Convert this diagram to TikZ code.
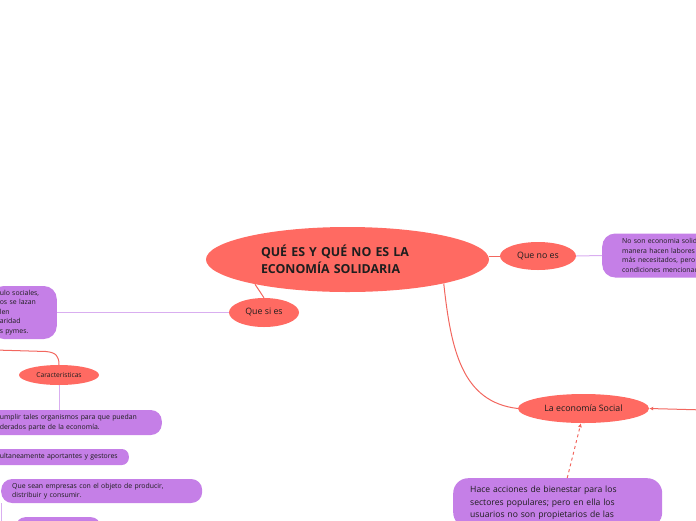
\documentclass[tikz,border=0pt]{standalone}
\usepackage{fontspec}
\setmainfont{Open Sans}
\usetikzlibrary{arrows.meta,positioning,calc,shapes.geometric}
\definecolor{topicred}{HTML}{FF6A62}
\definecolor{notelilac}{HTML}{C57FE7}
\definecolor{linkred}{HTML}{F2675F}
\definecolor{linklilac}{HTML}{D9AEF0}
\definecolor{inkdark}{HTML}{1E1E1E}
\tikzset{
  >={Latex[length=4pt,width=4pt]},
  topic/.style={ellipse,fill=topicred,text=inkdark,inner sep=0pt,align=center,font=\fontsize{8.8}{10}\selectfont},
  note/.style={rounded corners=13pt,fill=notelilac,text=inkdark,inner ysep=0pt,align=left,font=\fontsize{6.9}{9.5}\selectfont},
  redlink/.style={draw=linkred,line width=1pt},
  lilaclink/.style={draw=linklilac,line width=1pt},
}

\begin{document}
\begin{tikzpicture}[x=1pt,y=-1pt]
\useasboundingbox (0,0) rectangle (696,520);
\clip (0,0) rectangle (696,520);

% central topic
\node[topic,minimum width=283pt,minimum height=65pt,text width=173pt,align=left,
  font=\fontsize{12.4}{17.5}\selectfont\bfseries] (title) at (347.5,259.5)
  {QUÉ ES Y QUÉ NO ES LA\\ECONOMÍA SOLIDARIA};

% main branches
\node[topic,minimum width=76pt,minimum height=28pt] (queno) at (538,256) {Que no es};
\node[topic,minimum width=70pt,minimum height=29pt] (quesi) at (264,312.5) {Que si es};
\node[topic,minimum width=131pt,minimum height=29pt] (laeco) at (583.5,408.5) {La economía Social};
\node[topic,minimum width=80pt,minimum height=20pt,font=\fontsize{6.7}{8}\selectfont] (caract) at (59,375) {Caracteristicas};

% notes
\node[note,anchor=west,minimum height=44pt,inner xsep=20pt,text width=190pt] (nobox) at (602,255.5)
  {No son economia solidaria aunque de alguna\\manera hacen labores sociales con los\\más necesitados, pero no cumplen las\\condiciones mencionadas.};
\node[note,anchor=east,minimum height=53pt,inner xsep=9pt,text width=48pt] (defbox) at (57,312.5)
  {ulo sociales,\\os se lazan\\len\\aridad\\s pymes.};
\node[note,anchor=east,rounded corners=11pt,minimum height=25pt,inner xsep=11pt,text width=151pt] (charbox) at (162,422.5)
  {umplir tales organismos para que puedan\\derados parte de la economía.};
\node[note,anchor=east,rounded corners=7pt,minimum height=16pt,inner xsep=8pt,text width=121pt] (socbox) at (129,457)
  {ultaneamente aportantes y gestores};
\node[note,anchor=west,rounded corners=11pt,minimum height=24pt,inner xsep=11pt,text width=179pt] (objbox) at (1,491)
  {Que sean empresas con el objeto de producir,\\distribuir y consumir.};
\node[note,anchor=north west,rounded corners=9pt,minimum width=84pt,minimum height=20pt] (lastbox) at (16,517) {};
\node[note,anchor=north west,rounded corners=15pt,inner xsep=17pt,inner ysep=8pt,text width=175pt,
  font=\fontsize{8.6}{12.3}\selectfont] (hacebox) at (453,478)
  {Hace acciones de bienestar para los\\sectores populares; pero en ella los\\usuarios no son propietarios de las};

% connectors
\coordinate (caractin) at (-5,350);
\coordinate (socialin) at (705,410);
\coordinate (branchtop) at (1,503);
\coordinate (branchend) at (1,525);

\draw[redlink] (title.east |- queno.west) -- (queno.west);
\draw[lilaclink] (queno.east) -- (nobox.west);
\draw[redlink] (title.-165) -- (quesi.north);
\draw[lilaclink] (quesi.west) -- (defbox.east);
\draw[redlink] (title.-14) .. controls (451,350) and (462,402) .. (laeco.west);
\draw[redlink,->] (socialin) -- (laeco.east);
\draw[redlink,dashed,dash pattern=on 3pt off 3pt,->] ($(hacebox.north)+(9.5,0)$) -- (laeco.-100);
\draw[redlink] (caractin) -- (46,351.5) .. controls (56,352.5) and (59,356) .. (caract.north);
\draw[lilaclink] (caract.south) -- (caract.south |- charbox.north);
\draw[lilaclink] (branchtop) -- (branchend);
\end{tikzpicture}
\end{document}
